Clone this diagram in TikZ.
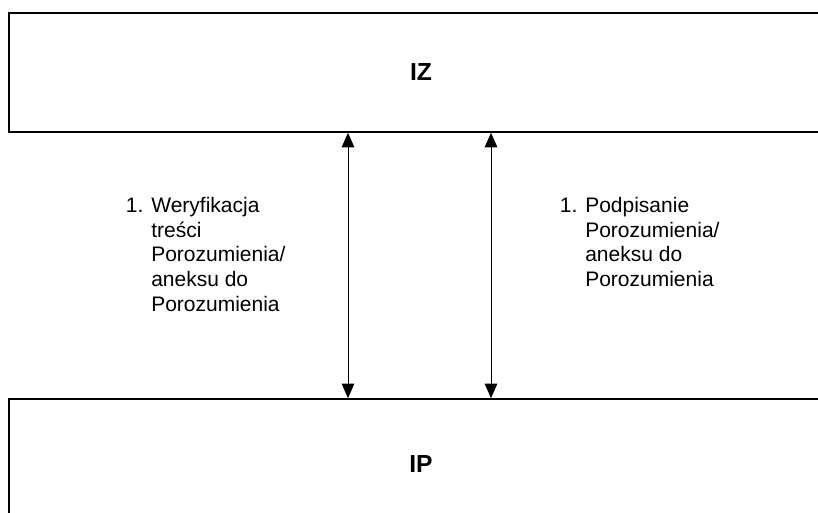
\documentclass[tikz,border=0pt]{standalone}
\usepackage{fontspec}
\setmainfont{Liberation Sans}
\usepackage{tikz}
\usetikzlibrary{arrows.meta, positioning}
\newcommand{\numlead}{\makebox[19pt][l]{1.}}
\newcommand{\listindent}{\hspace*{19pt}}

\begin{document}
\begin{tikzpicture}[
    x=0.75pt, y=0.75pt,
    unit/.style={rectangle, draw, line width=1.2pt, minimum width=618pt, minimum height=#1, font=\fontsize{18.5}{22}\selectfont\bfseries},
    desc/.style={anchor=north west, inner sep=0pt, align=left, font=\fontsize{15.75}{18.5}\selectfont},
    arrow/.style={{Triangle[length=11pt,width=9.5pt]}-{Triangle[length=11pt,width=9.5pt]}, line width=0.75pt}
]
    \useasboundingbox (0,0) rectangle (818,513);
    \node[unit=89.25pt] (iz) at (421,440.5) {IZ};
    \node[unit=98.25pt] (ip) at (421,48.5) {IP};

    \coordinate (vl) at (348,250);
    \coordinate (vr) at (491,250);
    \draw[arrow] (iz.south -| vl) -- (ip.north -| vl);
    \draw[arrow] (iz.south -| vr) -- (ip.north -| vr);

    \node[desc] (weryf) at (125.7,316) {\numlead Weryfikacja\\ \listindent treści\\ \listindent Porozumienia/\\ \listindent aneksu do\\ \listindent Porozumienia};
    \node[desc] (podpis) at (559.7,316) {\numlead Podpisanie\\ \listindent Porozumienia/\\ \listindent aneksu do\\ \listindent Porozumienia};
\end{tikzpicture}
\end{document}
